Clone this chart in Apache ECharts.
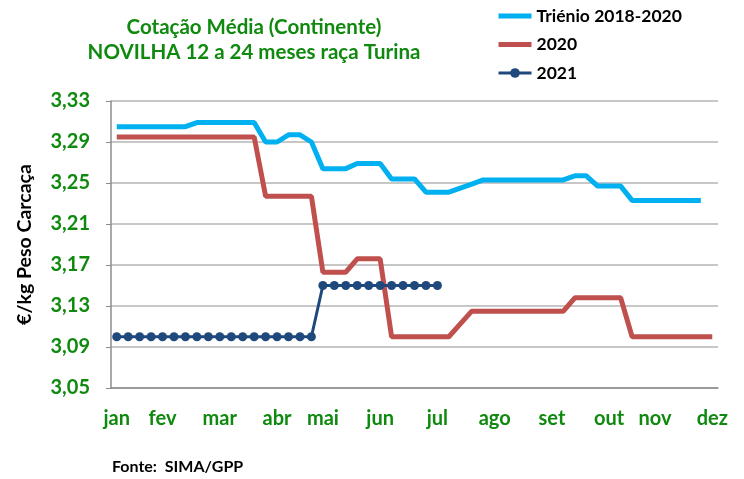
<!DOCTYPE html>
<html>
<head>
<meta charset="utf-8">
<script src="https://cdn.jsdelivr.net/npm/echarts@6/dist/echarts.min.js"></script>
<style>
  html, body { margin: 0; padding: 0; background: #fff; }
  #chart { width: 744px; height: 479px; }
</style>
</head>
<body>
<div id="chart"></div>
<script>
// 53 semanas; só algumas têm rótulo de mês
const monthLabels = { 0: 'jan', 4: 'fev', 9: 'mar', 14: 'abr', 18: 'mai', 23: 'jun', 28: 'jul', 33: 'ago', 38: 'set', 43: 'out', 47: 'nov', 52: 'dez' }
const weeks = Array.from({ length: 53 }, (_, i) => monthLabels[i] || '')

const trienio = [
  3.305, 3.305, 3.305, 3.305, 3.305, 3.305, 3.305, 3.309, 3.309, 3.309,
  3.309, 3.309, 3.309, 3.290, 3.290, 3.297, 3.297, 3.290, 3.264, 3.264,
  3.264, 3.269, 3.269, 3.269, 3.254, 3.254, 3.254, 3.241, 3.241, 3.241,
  3.245, 3.249, 3.253, 3.253, 3.253, 3.253, 3.253, 3.253, 3.253, 3.253,
  3.257, 3.257, 3.247, 3.247, 3.247, 3.233, 3.233, 3.233, 3.233, 3.233,
  3.233, 3.233, null
]
const ano2020 = [
  3.295, 3.295, 3.295, 3.295, 3.295, 3.295, 3.295, 3.295, 3.295, 3.295,
  3.295, 3.295, 3.295, 3.237, 3.237, 3.237, 3.237, 3.237, 3.163, 3.163,
  3.163, 3.176, 3.176, 3.176, 3.100, 3.100, 3.100, 3.100, 3.100, 3.100,
  3.1125, 3.125, 3.125, 3.125, 3.125, 3.125, 3.125, 3.125, 3.125, 3.125,
  3.138, 3.138, 3.138, 3.138, 3.138, 3.100, 3.100, 3.100, 3.100, 3.100,
  3.100, 3.100, 3.100
]
const ano2021 = [
  3.10, 3.10, 3.10, 3.10, 3.10, 3.10, 3.10, 3.10, 3.10, 3.10,
  3.10, 3.10, 3.10, 3.10, 3.10, 3.10, 3.10, 3.10, 3.15, 3.15,
  3.15, 3.15, 3.15, 3.15, 3.15, 3.15, 3.15, 3.15, 3.15
]

const green = '#0f8a0f'
const font = 'Lato, "Open Sans", sans-serif'

const chart = echarts.init(document.getElementById('chart'), undefined, { renderer: 'canvas' })

chart.setOption({
  animation: false,
  backgroundColor: '#fff',
  textStyle: { fontFamily: font },
  title: {
    text: 'Cotação Média (Continente)\nNOVILHA 12 a 24 meses raça Turina',
    left: 249,
    top: 10,
    textAlign: 'center',
    textStyle: { color: green, fontSize: 20.5, fontWeight: 'bold', lineHeight: 25, fontFamily: font }
  },
  graphic: [{
    type: 'text',
    left: 112,
    top: 459,
    style: { text: 'Fonte:  SIMA/GPP', fill: '#000', font: 'bold 16px ' + font }
  }],
  legend: {
    orient: 'vertical',
    left: 491,
    top: 1,
    itemWidth: 33,
    itemHeight: 12,
    itemGap: 8.5,
    lineStyle: { width: 5 },
    textStyle: { color: '#000', fontSize: 17.5, fontWeight: 'bold', lineHeight: 20, fontFamily: font },
    data: [
      { name: 'Triénio 2018-2020', itemStyle: { opacity: 0 } },
      { name: '2020', itemStyle: { opacity: 0 } },
      { name: '2021', lineStyle: { width: 3 } }
    ]
  },
  grid: { left: 111, right: 26, top: 101, bottom: 91 },
  xAxis: {
    type: 'category',
    data: weeks,
    boundaryGap: true,
    axisLine: { lineStyle: { color: '#8c8c8c', width: 1.5 } },
    axisTick: { interval: 0, length: 6, lineStyle: { color: '#8c8c8c' } },
    axisLabel: { interval: 0, color: green, fontSize: 20, fontWeight: 'bold', margin: 21, fontFamily: font }
  },
  yAxis: {
    type: 'value',
    min: 3.05,
    max: 3.33,
    interval: 0.04,
    name: '€/kg Peso Carcaça',
    nameLocation: 'middle',
    nameGap: 76,
    nameTextStyle: { color: '#000', fontSize: 19.5, fontWeight: 'bold', fontFamily: font },
    axisLine: { show: true, lineStyle: { color: '#8c8c8c', width: 1.5 } },
    axisTick: { show: true, length: 5, lineStyle: { color: '#8c8c8c' } },
    splitLine: { lineStyle: { color: '#b4b4b4', width: 1.5 } },
    axisLabel: {
      color: green, fontSize: 20, fontWeight: 'bold', margin: 21, fontFamily: font,
      formatter: v => v.toFixed(2).replace('.', ',')
    }
  },
  series: [
    {
      name: 'Triénio 2018-2020',
      type: 'line',
      data: trienio,
      symbol: 'none',
      lineStyle: { color: '#00b0f0', width: 5 },
      itemStyle: { color: '#00b0f0' }
    },
    {
      name: '2020',
      type: 'line',
      data: ano2020,
      symbol: 'none',
      lineStyle: { color: '#c0504d', width: 5 },
      itemStyle: { color: '#c0504d' }
    },
    {
      name: '2021',
      type: 'line',
      data: ano2021,
      symbol: 'circle',
      symbolSize: 9,
      lineStyle: { color: '#1f497d', width: 3 },
      itemStyle: { color: '#1f497d' }
    }
  ]
})
</script>
</body>
</html>
